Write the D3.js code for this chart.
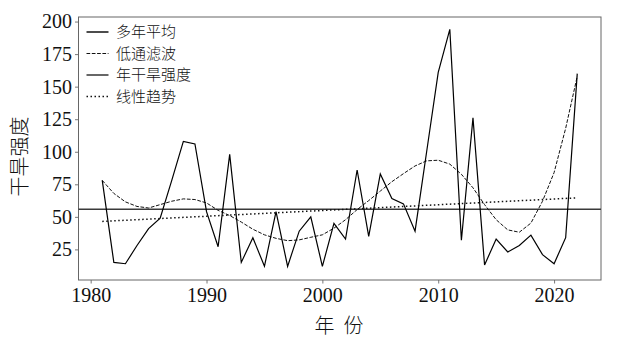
<!DOCTYPE html>
<html><head><meta charset="utf-8">
<script src="https://cdn.jsdelivr.net/npm/d3@7"></script>
<style>body{margin:0;background:#fff}svg{display:block}</style>
</head><body><svg id="c" width="624" height="339"></svg>
<script>
const years = [1981,1982,1983,1984,1985,1986,1987,1988,1989,1990,
  1991,1992,1993,1994,1995,1996,1997,1998,1999,2000,
  2001,2002,2003,2004,2005,2006,2007,2008,2009,2010,
  2011,2012,2013,2014,2015,2016,2017,2018,2019,2020,2021,2022];
const intensity = [78,15,14,28,41,49,78,108,106,54,
  27,98,15,34,12,54,12,39,50,12,
  45,33,86,35,83,64,60,39,100,161,
  194,32,126,13,33,23,28,36,21,14,34,160];
const lowpass = [78,68,61.5,58,56.8,59.4,62,63.8,63.3,60.7,
  55,51,46,40.5,36.2,33.5,31.7,32.3,34.3,36.2,
  41.3,47.8,55.6,62.5,69.8,77,83.2,89.1,93,93.5,
  90.5,82.7,72.3,59.4,47.8,40,38.2,45.2,62,84,118,158];
const trendYears = [1981, 2022];
const trendValues = [46.5, 64.6];
const meanValue = 55.8;
const xTicks = [1980,1990,2000,2010,2020];
const yTicks = [25,50,75,100,125,150,175,200];
const legendLabels = ["多年平均","低通滤波","年干旱强度","线性趋势"];

const L = 78.5, R = 601, T = 17, B = 280;
const svg = d3.select("#c");
const x = d3.scaleLinear().domain([1978.95, 2024.05]).range([L, R]);
const y = d3.scaleLinear().domain([1.5, 203.5]).range([B, T]);

const serif = "'Liberation Serif','DejaVu Serif',serif";
const cjk = "'Noto Sans CJK SC','Noto Sans CJK JP',sans-serif";

// axes
const xa = svg.append("g").attr("transform", `translate(0,${B})`)
  .call(d3.axisBottom(x).tickValues(xTicks).tickFormat(d3.format("d")).tickSize(3.5).tickPadding(4));
const ya = svg.append("g").attr("transform", `translate(${L},0)`)
  .call(d3.axisLeft(y).tickValues(yTicks).tickSize(3.5).tickPadding(3));
[xa, ya].forEach(a => {
  a.select(".domain").remove();
  a.selectAll("line").attr("stroke", "#555").attr("stroke-width", 0.8);
  a.selectAll("text").attr("font-family", serif).attr("font-size", 20).attr("fill", "#111");
});

// frame
svg.append("rect").attr("x", L).attr("y", T).attr("width", R - L).attr("height", B - T)
  .attr("fill", "none").attr("stroke", "#666").attr("stroke-width", 1);

const line = d3.line().x((d, i) => x(years[i])).y(d => y(d));

// mean line
svg.append("line").attr("x1", L).attr("x2", R).attr("y1", y(meanValue)).attr("y2", y(meanValue))
  .attr("stroke", "#3a3a3a").attr("stroke-width", 1.5);

// low-pass
svg.append("path").datum(lowpass).attr("d", line).attr("fill", "none")
  .attr("stroke", "#111").attr("stroke-width", 1).attr("stroke-dasharray", "3.7,1.6");

// intensity
svg.append("path").datum(intensity).attr("d", line).attr("fill", "none")
  .attr("stroke", "#000").attr("stroke-width", 1.2).attr("stroke-linejoin", "miter");

// trend
svg.append("line").attr("x1", x(trendYears[0])).attr("x2", x(trendYears[1]))
  .attr("y1", y(trendValues[0])).attr("y2", y(trendValues[1]))
  .attr("stroke", "#111").attr("stroke-width", 1.5).attr("stroke-dasharray", "1.5,2.5");

// legend
const styles = [
  {dash: null, w: 1.5, c: "#111"},
  {dash: "3.7,1.6", w: 1, c: "#111"},
  {dash: null, w: 1.2, c: "#000"},
  {dash: "1.5,2.5", w: 1.5, c: "#111"}
];
const lg = svg.append("g");
legendLabels.forEach((t, i) => {
  const yy = 32 + i * 21.5;
  const s = styles[i];
  const ln = lg.append("line").attr("x1", 86.5).attr("x2", 108.5).attr("y1", yy).attr("y2", yy)
    .attr("stroke", s.c).attr("stroke-width", s.w);
  if (s.dash) ln.attr("stroke-dasharray", s.dash);
  lg.append("text").attr("x", 116).attr("y", yy).attr("dy", "0.36em")
    .attr("font-family", cjk).attr("font-weight", 300).attr("font-size", 15).attr("fill", "#111").text(t);
});

// axis titles
svg.append("text").attr("transform", `translate(27,${(T + B) / 2 + 8}) rotate(-90)`)
  .attr("text-anchor", "middle").attr("font-family", cjk).attr("font-weight", 300)
  .attr("font-size", 20).attr("fill", "#111")
  .text("干旱强度");
svg.append("text").attr("x", 339).attr("y", 333).attr("text-anchor", "middle")
  .attr("font-family", cjk).attr("font-weight", 300).attr("font-size", 20).attr("fill", "#111")
  .attr("xml:space", "preserve").style("white-space", "pre")
  .text("年  份");
</script></body></html>
